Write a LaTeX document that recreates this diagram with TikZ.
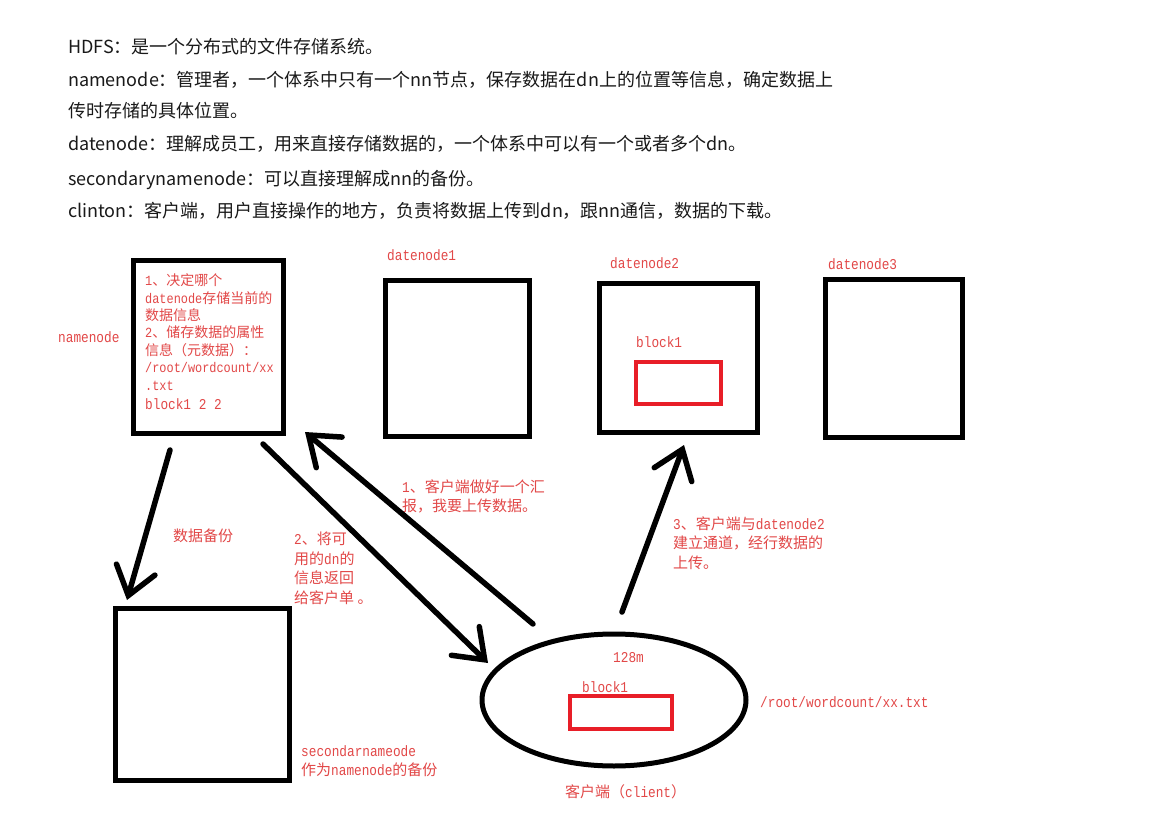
\documentclass[tikz,border=0pt]{standalone}
\usepackage{fontspec}
\usetikzlibrary{arrows.meta,shapes.geometric}
\newfontfamily\cjk{Noto Sans CJK SC}
\newfontfamily\lmono[FakeStretch=0.85]{Liberation Mono}
\definecolor{txtred}{RGB}{226,72,72}
\definecolor{boxred}{RGB}{232,30,40}
\newcommand{\zh}[1]{{\cjk #1}}
\tikzset{
  hdr/.style={anchor=base west, inner sep=0pt, font=\cjk\fontsize{18}{22}\selectfont, text=black!90},
  lbl/.style={anchor=base west, inner sep=0pt, font=\lmono\fontsize{15}{19.5}\selectfont, text=txtred, align=left},
  sbox/.style={draw=black, line width=5pt, inner sep=0pt},
  rbox/.style={draw=boxred, line width=4pt, inner sep=0pt},
  flow/.style={line width=5.5pt, line cap=round, -{Straight Barb[length=27pt,width=40pt,line cap=round]}}
}
\begin{document}
\begin{tikzpicture}[x=1pt,y=-1pt]
\useasboundingbox[fill=white] (0,0) rectangle (1152,813);
% header
\node[hdr] (h1) at (68,54) {HDFS：是一个分布式的文件存储系统。};
\node[hdr] (h2) at (68,87) {namenode：管理者，一个体系中只有一个nn节点，保存数据在dn上的位置等信息，确定数据上};
\node[hdr] (h3) at (68,118) {传时存储的具体位置。};
\node[hdr] (h4) at (68,151) {datenode：理解成员工，用来直接存储数据的，一个体系中可以有一个或者多个dn。};
\node[hdr] (h5) at (68,186) {secondarynamenode：可以直接理解成nn的备份。};
\node[hdr] (h6) at (68,218) {clinton：客户端，用户直接操作的地方，负责将数据上传到dn，跟nn通信，数据的下载。};
% boxes
\node[sbox, minimum width=150, minimum height=172] (nn) at (208,347) {};
\node[sbox, minimum width=144, minimum height=155] (dn1) at (457,358.5) {};
\node[sbox, minimum width=158, minimum height=148] (dn2) at (678,358) {};
\node[sbox, minimum width=137, minimum height=157] (dn3) at (893.5,358.5) {};
\node[sbox, minimum width=174, minimum height=172] (snn) at (202,694) {};
\node[rbox, minimum width=85, minimum height=42] (blk2) at (678.5,383) {};
\node[draw=black, line width=5pt, ellipse, minimum width=264, minimum height=132, inner sep=0pt] (cl) at (614,700) {};
\node[rbox, minimum width=102, minimum height=33] (blkc) at (621,712.5) {};
% namenode text (base anchor = last line baseline)
\node[lbl, font=\lmono\fontsize{14}{17.4}\selectfont] (nntxt) at (145,390) {1\zh{、决定哪个}\\datenode\zh{存储当前的}\\\zh{数据信息}\\2\zh{、储存数据的属性}\\\zh{信息（元数据）：}\\/root/wordcount/xx\\.txt};
\node[lbl] (nnblk) at (145,409) {block1 2 2};
% labels
\node[lbl] (nnlbl) at (58,342) {namenode};
\node[lbl] (dn1lbl) at (387,261) {datenode1};
\node[lbl] (dn2lbl) at (610,269) {datenode2};
\node[lbl] (dn3lbl) at (828,270) {datenode3};
\node[lbl] (blk2lbl) at (636,347) {block1};
\node[lbl] (bklbl) at (173,541) {\zh{数据备份}};
\node[lbl] (l2) at (294,603) {2\zh{、将可}\\\zh{用的}dn\zh{的}\\\zh{信息返回}\\\zh{给客户单 。}};
\node[lbl, font=\lmono\fontsize{15}{19}\selectfont] (l1) at (402,511) {1\zh{、客户端做好一个汇}\\\zh{报，我要上传数据。}};
\node[lbl] (l3) at (673,568) {3\zh{、客户端与}datenode2\\\zh{建立通道，经行数据的}\\\zh{上传。}};
\node[lbl] (sz) at (613,662) {128m};
\node[lbl] (blkclbl) at (582,692) {block1};
\node[lbl] (path) at (760,707) {/root/wordcount/xx.txt};
\node[lbl] (cllbl) at (565,797) {\zh{客户端（}client\zh{）}};
\node[lbl] (snl) at (301,775.5) {secondarnameode\\\zh{作为}namenode\zh{的备份}};
% arrows
\coordinate (a1s) at (170,450); \coordinate (a1e) at (127,600);
\coordinate (a2s) at (263,444); \coordinate (a2e) at (488,663);
\coordinate (a3s) at (533,624); \coordinate (a3e) at (305,432);
\coordinate (a4s) at (622,612); \coordinate (a4e) at (684,445);
\draw[flow] (a1s) -- (a1e);
\draw[flow] (a2s) -- (a2e);
\draw[flow] (a3s) -- (a3e);
\draw[flow] (a4s) -- (a4e);
\end{tikzpicture}
\end{document}
